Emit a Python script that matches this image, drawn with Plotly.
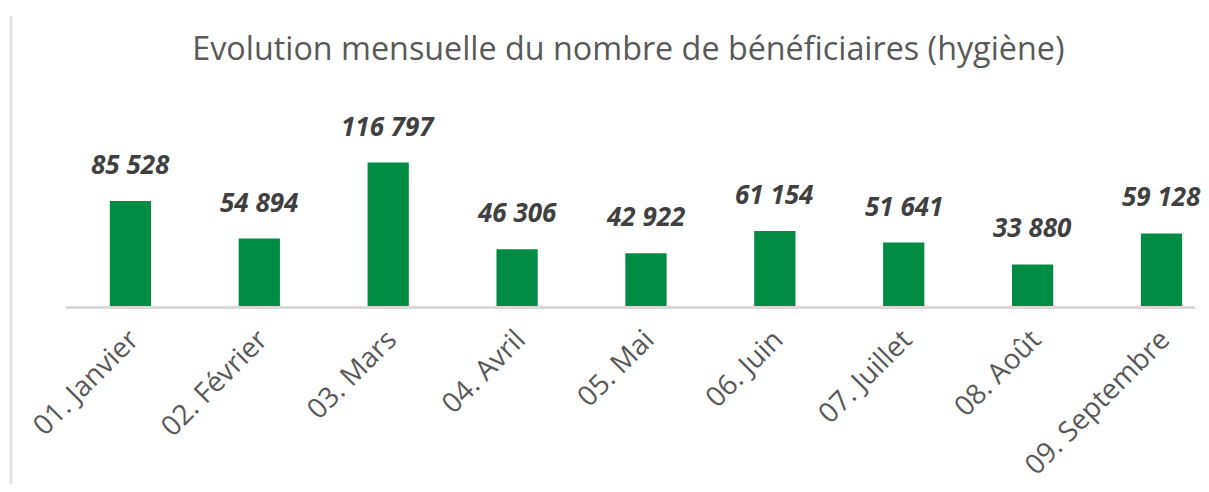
import plotly.graph_objects as go

categories = ["01. Janvier", "02. Février", "03. Mars", "04. Avril", "05. Mai",
              "06. Juin", "07. Juillet", "08. Août", "09. Septembre"]
values = [85528, 54894, 116797, 46306, 42922, 61154, 51641, 33880, 59128]
title_text = "Evolution mensuelle du nombre de bénéficiaires (hygiène)"

labels = [f"{v:,}".replace(",", " ") for v in values]

fig = go.Figure()
fig.add_trace(go.Bar(
    x=list(range(len(categories))), y=values,
    marker=dict(color="#008C45", line=dict(width=0)),
    width=0.32, hoverinfo="skip",
))

for i, (v, t) in enumerate(zip(values, labels)):
    fig.add_annotation(
        x=i, y=v, text=f"<b><i>{t}</i></b>", showarrow=False,
        yanchor="bottom", yshift=17,
        font=dict(family="Open Sans", size=26, color="#404040"),
    )

fig.add_shape(type="line", xref="paper", yref="paper",
              x0=-0.0487, x1=-0.0487, y0=-0.9, y1=1.408,
              line=dict(color="#E3E3E3", width=3))

fig.update_layout(
    width=1193, height=476,
    margin=dict(l=58, r=6, t=92, b=178, autoexpand=False),
    paper_bgcolor="white", plot_bgcolor="white",
    showlegend=False,
    title=dict(text=title_text, x=0.52, xanchor="center", y=0.914, yanchor="middle",
               font=dict(family="Open Sans", size=32.3, color="#595959")),
    xaxis=dict(
        tickmode="array", tickvals=list(range(len(categories))), ticktext=categories,
        range=[-0.5, 8.26], tickangle=-45, showline=True, linecolor="#D9D9D9",
        linewidth=3, ticks="", showgrid=False, zeroline=False, automargin=False,
        ticklabelstandoff=3,
        tickfont=dict(family="Open Sans", size=28, color="#595959"),
    ),
    yaxis=dict(range=[0, 167800], visible=False, showgrid=False, zeroline=False,
               automargin=False),
)

fig.write_html("out.html")
